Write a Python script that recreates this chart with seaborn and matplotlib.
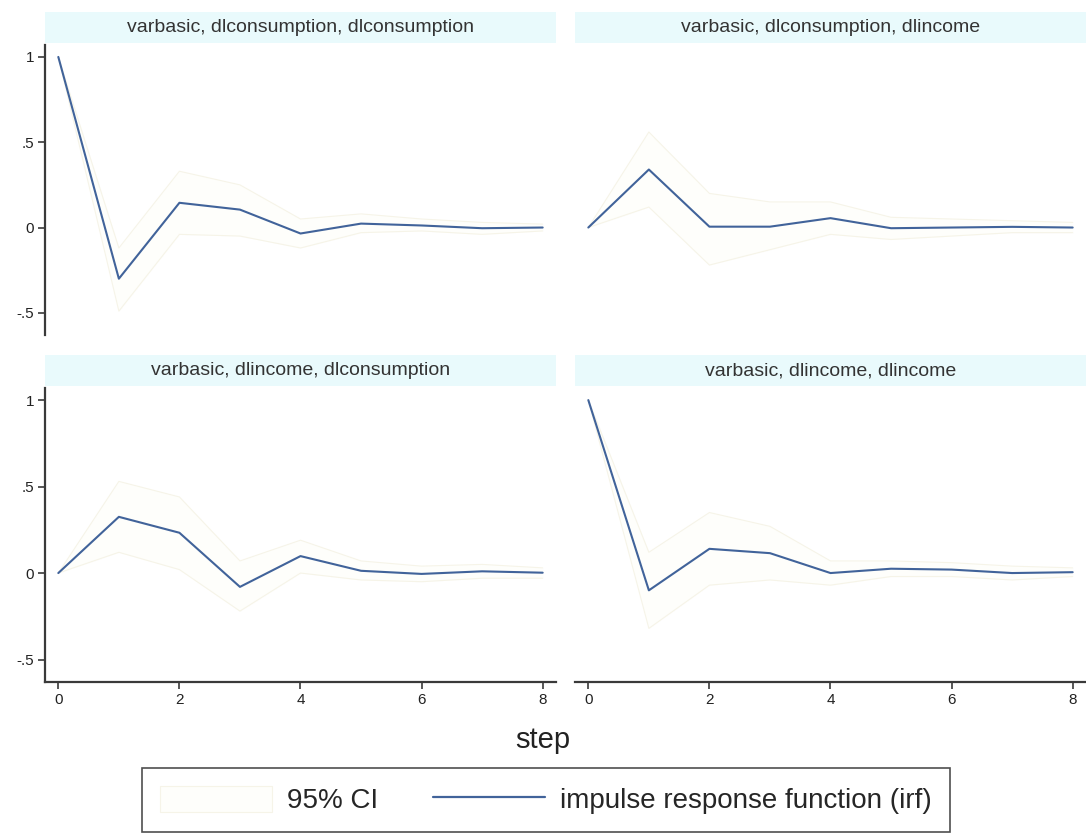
import numpy as np
import pandas as pd
import seaborn as sns
import matplotlib.pyplot as plt
from matplotlib.patches import Rectangle, Patch
from matplotlib.lines import Line2D

steps = [0, 1, 2, 3, 4, 5, 6, 7, 8]

panel_titles = [
    "varbasic, dlconsumption, dlconsumption",
    "varbasic, dlconsumption, dlincome",
    "varbasic, dlincome, dlconsumption",
    "varbasic, dlincome, dlincome",
]

# impulse response function per panel
irf_cc = [1.0, -0.30, 0.145, 0.105, -0.035, 0.023, 0.012, -0.004, 0.0]
irf_ci = [0.0, 0.34, 0.005, 0.005, 0.055, -0.004, 0.0, 0.004, 0.0]
irf_ic = [0.0, 0.325, 0.233, -0.08, 0.098, 0.013, -0.005, 0.01, 0.002]
irf_ii = [1.0, -0.10, 0.14, 0.115, 0.0, 0.025, 0.02, 0.0, 0.005]

# 95% CI bounds
lo_cc = [1.0, -0.49, -0.04, -0.05, -0.12, -0.03, -0.02, -0.04, -0.02]
hi_cc = [1.0, -0.12, 0.33, 0.25, 0.05, 0.08, 0.05, 0.03, 0.02]
lo_ci = [0.0, 0.12, -0.22, -0.13, -0.04, -0.07, -0.05, -0.03, -0.03]
hi_ci = [0.0, 0.56, 0.20, 0.15, 0.15, 0.06, 0.05, 0.04, 0.03]
lo_ic = [0.0, 0.12, 0.02, -0.22, 0.0, -0.04, -0.05, -0.03, -0.03]
hi_ic = [0.0, 0.53, 0.44, 0.07, 0.19, 0.07, 0.04, 0.05, 0.03]
lo_ii = [1.0, -0.32, -0.07, -0.04, -0.07, -0.02, -0.02, -0.04, -0.02]
hi_ii = [1.0, 0.12, 0.35, 0.27, 0.07, 0.07, 0.06, 0.04, 0.03]

irfs = [irf_cc, irf_ci, irf_ic, irf_ii]
los = [lo_cc, lo_ci, lo_ic, lo_ii]
his = [hi_cc, hi_ci, hi_ic, hi_ii]

rows = []
for t, irf, lo, hi in zip(panel_titles, irfs, los, his):
    for s, v, l, h in zip(steps, irf, lo, hi):
        rows.append({"panel": t, "step": s, "irf": v, "lo": l, "hi": h})
df = pd.DataFrame(rows)

sns.set_style("white")
plt.rcParams["font.family"] = ["Liberation Sans", "DejaVu Sans"]

line_col = "#41639a"
ci_fill = "#fefefb"
ci_edge = "#f6f4e8"
spine_col = "#3a3a3a"
strip_col = "#e9fafc"

fig = plt.figure(figsize=(10.86, 8.35), dpi=100)
W, H = 1086, 835

def px_axes(x0, y0, x1, y1):
    return fig.add_axes([x0 / W, 1 - y1 / H, (x1 - x0) / W, (y1 - y0) / H])

boxes = [(45, 45, 556, 335), (575, 45, 1086, 335),
         (45, 388, 556, 682), (575, 388, 1086, 682)]

for i, (t, box) in enumerate(zip(panel_titles, boxes)):
    ax = px_axes(*box)
    d = df[df.panel == t]
    ax.fill_between(d.step, d.lo, d.hi, color=ci_fill, lw=0)
    ax.plot(d.step, d.lo, color=ci_edge, lw=0.8)
    ax.plot(d.step, d.hi, color=ci_edge, lw=0.8)
    sns.lineplot(data=d, x="step", y="irf", ax=ax, color=line_col, lw=1.5)
    ax.set_xlim(-0.22, 8.22)
    ax.set_ylim(-0.63, 1.07)
    ax.set_xlabel("")
    ax.set_ylabel("")
    for sp in ax.spines.values():
        sp.set_visible(False)
        sp.set_color(spine_col)
        sp.set_linewidth(1.6)
    left = i % 2 == 0
    bottom = i >= 2
    if left:
        ax.spines["left"].set_visible(True)
        ax.set_yticks([-0.5, 0, 0.5, 1])
        ax.set_yticklabels(["-.5", "0", ".5", "1"])
    else:
        ax.set_yticks([])
    if bottom:
        ax.spines["bottom"].set_visible(True)
        ax.set_xticks([0, 2, 4, 6, 8])
    else:
        ax.set_xticks([])
    ax.tick_params(axis="both", direction="out", length=5, width=1.2,
                   color=spine_col, labelsize=11, labelcolor="#222222",
                   left=left, bottom=bottom, pad=3)
    # title strip
    strip_h = 31 / (box[3] - box[1])
    gap = 2 / (box[3] - box[1])
    ax.add_patch(Rectangle((0, 1 + gap), 1, strip_h, transform=ax.transAxes,
                           facecolor=strip_col, edgecolor="none", clip_on=False))
    ax.text(0.5, 1 + gap + strip_h / 2, t, transform=ax.transAxes,
            ha="center", va="center", fontsize=14, color="#333333")

fig.text(543 / W, 1 - 740 / H, "step", ha="center", va="center",
         fontsize=21, color="#222222")

handles = [Patch(facecolor=ci_fill, edgecolor=ci_edge, lw=0.8),
           Line2D([0], [0], color=line_col, lw=1.6)]
leg = fig.legend(handles, ["95% CI", "impulse response function (irf)"],
                 loc="center", bbox_to_anchor=(546 / W, 1 - 800 / H),
                 ncol=2, fontsize=20, frameon=True, fancybox=False,
                 handlelength=4.0, handleheight=1.1, columnspacing=2.0,
                 borderpad=0.65, handletextpad=0.55, borderaxespad=0)
leg.get_frame().set_edgecolor("#222222")
leg.get_frame().set_linewidth(1.2)

fig.savefig("out.png", dpi=100, facecolor="white")
